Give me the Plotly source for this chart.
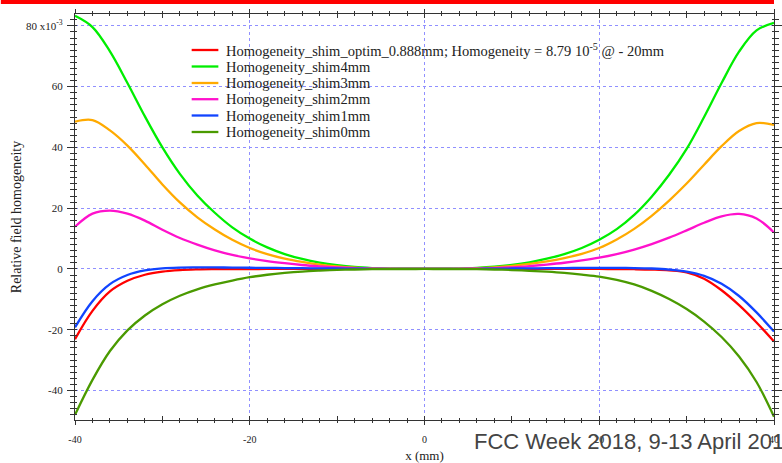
import plotly.graph_objects as go

# ---------------- data ----------------
x_mm = [-40, -38, -36, -34, -32, -30, -28, -26, -24, -22, -20, -18, -16, -14, -12, -10, -8, -6, -4, -2, 0,
        2, 4, 6, 8, 10, 12, 14, 16, 18, 20, 22, 24, 26, 28, 30, 32, 34, 36, 38, 40]

h_optim = [-23.1, -13.8, -7.4, -3.9, -1.9, -0.85, -0.35, -0.15, -0.07, -0.03, -0.01, 0, 0, 0, 0, 0, 0, 0, 0, 0, 0,
           0, 0, 0, 0, 0, 0, 0, 0, 0, 0, -0.03, -0.08, -0.2, -0.45, -1.1, -3.2, -7.0, -11.9, -17.6, -23.9]

h_shim4 = [83.3, 79.6, 71.6, 61.2, 50.2, 40.0, 31.3, 24.2, 18.5, 13.7, 10.0, 7.1, 4.9, 3.3, 2.1, 1.25, 0.65, 0.3, 0.1, 0.02, 0,
           0.02, 0.1, 0.35, 0.75, 1.35, 2.2, 3.4, 4.9, 6.9, 9.6, 13.1, 17.8, 23.8, 31.0, 39.5, 50.0, 61.2, 71.5, 78.5, 81.0]

h_shim3 = [48.5, 49.0, 45.6, 40.6, 34.4, 27.8, 21.9, 17.0, 13.0, 9.6, 6.9, 4.9, 3.4, 2.3, 1.45, 0.85, 0.45, 0.2, 0.07, 0.01, 0,
           0.01, 0.08, 0.25, 0.55, 1.0, 1.65, 2.5, 3.6, 5.0, 6.9, 9.7, 13.2, 17.5, 22.5, 28.1, 34.3, 40.4, 45.4, 48.0, 47.4]

h_shim2 = [13.9, 18.2, 19.2, 18.2, 15.9, 12.9, 10.2, 8.0, 6.1, 4.6, 3.5, 2.6, 1.9, 1.3, 0.85, 0.5, 0.27, 0.12, 0.04, 0.01, 0,
           0.01, 0.05, 0.14, 0.3, 0.55, 0.95, 1.45, 2.05, 2.8, 3.7, 4.9, 6.4, 8.2, 10.3, 12.7, 15.2, 17.3, 18.1, 16.6, 12.0]

h_shim1 = [-19.2, -10.6, -5.0, -2.0, -0.5, 0.2, 0.45, 0.5, 0.5, 0.45, 0.4, 0.35, 0.3, 0.25, 0.2, 0.15, 0.1, 0.05, 0.02, 0, 0,
           0, 0.02, 0.05, 0.1, 0.15, 0.2, 0.25, 0.3, 0.33, 0.35, 0.35, 0.3, 0.15, -0.2, -0.9, -2.3, -4.9, -8.9, -14.3, -20.6]

h_shim0 = [-48.0, -36.5, -27.0, -20.2, -15.3, -11.6, -8.8, -6.7, -5.1, -3.8, -2.7, -1.9, -1.3, -0.85, -0.55, -0.32, -0.17, -0.08, -0.03, -0.01, 0,
           -0.01, -0.03, -0.08, -0.17, -0.35, -0.6, -0.9, -1.3, -1.85, -2.5, -3.6, -5.1, -7.2, -9.9, -13.2, -17.3, -22.4, -28.8, -37.2, -48.6]

series_names = [
    "Homogeneity_shim_optim_0.888mm; Homogeneity = 8.79 10<sup>-5</sup> @ - 20mm",
    "Homogeneity_shim4mm",
    "Homogeneity_shim3mm",
    "Homogeneity_shim2mm",
    "Homogeneity_shim1mm",
    "Homogeneity_shim0mm",
]
series_colors = ["#ff0000", "#00ee00", "#ffaa00", "#ff11cc", "#1144ff", "#4a9a00"]

x_tick_vals = [-40, -20, 0, 20, 40]
x_tick_text = ["-40", "-20", "0", "20", "40"]
y_tick_vals = [-40, -20, 0, 20, 40, 60, 80]
y_tick_text = ["-40", "-20", "0", "20", "40", "60", "80 x10<sup>-3</sup>"]

x_range = [-40, 40]
y_range = [-49.7, 83.9]

# ---------------- figure ----------------
W, H = 782, 463
ML, MR, MT, MB = 75, 0, 14, 43
PW, PH = W - ML - MR, H - MT - MB


def px(xp):
    return (xp - ML) / PW


def py(yp):
    return (H - MB - yp) / PH


fig = go.Figure()
series = [h_optim, h_shim4, h_shim3, h_shim2, h_shim1, h_shim0]
for i, (ys, name, col) in enumerate(zip(series, series_names, series_colors)):
    last = i == len(series) - 1
    fig.add_trace(go.Scatter(
        x=x_mm, y=ys, mode="lines", name=name,
        line=dict(color=col, width=2.3, shape="spline", smoothing=1.0),
        showlegend=False, hoverinfo="skip",
        xaxis="x2" if last else "x", yaxis="y2" if last else "y",
    ))

serif = "Liberation Serif, Times New Roman, serif"
grid_col = "#9090ff"
axis_col = "#333333"

common_x = dict(range=x_range, zeroline=False, showline=True,
                linecolor=axis_col, linewidth=1.2)
common_y = dict(range=y_range, zeroline=False, showline=True,
                linecolor=axis_col, linewidth=1.2)

fig.update_layout(
    width=W, height=H,
    margin=dict(l=ML, r=MR, t=MT, b=MB, pad=0),
    paper_bgcolor="white", plot_bgcolor="white",
    font=dict(family=serif, color="#222222"),
    xaxis=dict(
        **common_x,
        showgrid=True, gridcolor=grid_col, griddash="dot", gridwidth=1,
        tickmode="array", tickvals=x_tick_vals, ticktext=x_tick_text,
        ticks="outside", ticklen=4, tickcolor=axis_col, tickwidth=1,
        minor=dict(dtick=2, tick0=0, ticks="outside", ticklen=2, tickcolor=axis_col, showgrid=False),
        mirror="ticks",
        tickfont=dict(size=10, family=serif, color="#222"),
        ticklabelstandoff=6,
        title=dict(text="x (mm)", font=dict(size=13, family=serif, color="#222"), standoff=8),
    ),
    yaxis=dict(
        **common_y,
        showgrid=True, gridcolor=grid_col, griddash="dot", gridwidth=1,
        tickmode="array", tickvals=y_tick_vals, ticktext=y_tick_text,
        ticks="outside", ticklen=7, tickcolor=axis_col, tickwidth=1,
        minor=dict(dtick=2, tick0=0, ticks="outside", ticklen=4, tickcolor=axis_col, showgrid=False),
        mirror="ticks",
        tickfont=dict(size=11, family=serif, color="#222"),
        ticklabelstandoff=2,
        title=dict(text="Relative field homogeneity", font=dict(size=14, family=serif, color="#222"), standoff=1),
    ),
    xaxis2=dict(
        **common_x, showgrid=False, overlaying="x", anchor="y2", showticklabels=False,
        tickmode="linear", tick0=-40, dtick=10,
        ticks="inside", ticklen=4, tickcolor=axis_col,
        minor=dict(dtick=2, tick0=0, ticks="inside", ticklen=2, tickcolor=axis_col, showgrid=False),
        mirror="ticks",
    ),
    yaxis2=dict(
        **common_y, showgrid=False, overlaying="y", anchor="x2", showticklabels=False,
        tickmode="linear", tick0=0, dtick=20,
        ticks="inside", ticklen=2, tickcolor=axis_col,
        minor=dict(dtick=2, tick0=0, ticks="inside", ticklen=2, tickcolor=axis_col, showgrid=False),
        mirror="ticks",
    ),
)

shapes = []
# red banner at top of page
shapes.append(dict(type="rect", xref="paper", yref="paper", x0=px(0), x1=px(W), y0=py(4), y1=py(-1),
                   fillcolor="#ff0000", line=dict(width=0), layer="above"))
# white legend background (covers grid)
shapes.append(dict(type="rect", xref="paper", yref="paper", x0=px(188), x1=px(670), y0=py(140), y1=py(28),
                   fillcolor="white", line=dict(width=0), layer="between"))

annotations = []
row_y = [50, 66.5, 83, 99.2, 115.5, 132]
for name, col, ry in zip(series_names, series_colors, row_y):
    shapes.append(dict(type="line", xref="paper", yref="paper", x0=px(193), x1=px(220), y0=py(ry), y1=py(ry),
                       line=dict(color=col, width=2.3), layer="above"))
    annotations.append(dict(xref="paper", yref="paper", x=px(226), y=py(ry), xanchor="left", yanchor="middle",
                            text=name, showarrow=False,
                            font=dict(size=14.5, family=serif, color="#222")))

annotations.append(dict(xref="paper", yref="paper", x=px(477), y=py(441), xanchor="left", yanchor="middle",
                        text="FCC Week 2018, 9-13 April 2018", showarrow=False,
                        font=dict(size=22, family="Liberation Sans, Arial, sans-serif", color="#444444")))

fig.update_layout(shapes=shapes, annotations=annotations)

fig.write_html("out.html")
